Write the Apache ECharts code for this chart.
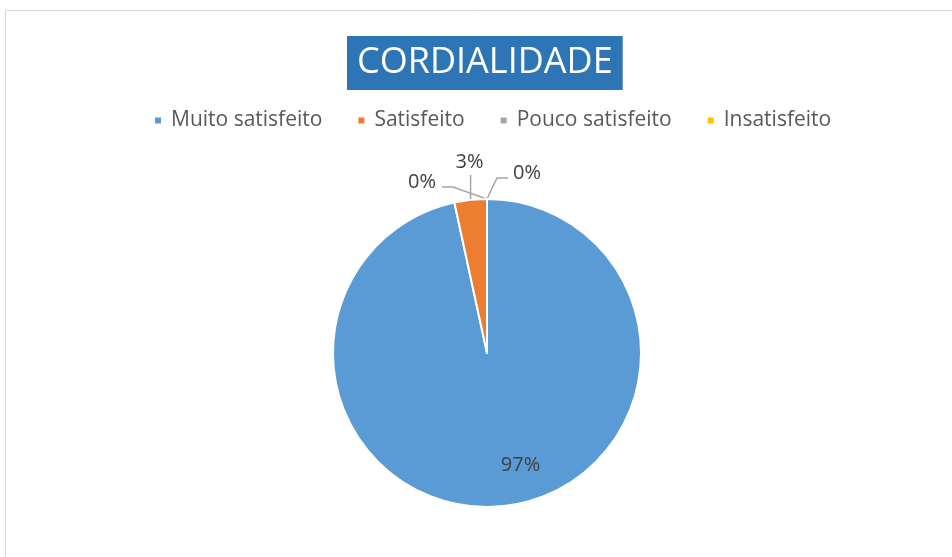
<!DOCTYPE html>
<html>
<head>
<meta charset="utf-8">
<style>
  html, body { margin: 0; padding: 0; background: #fff; }
  #chart { width: 952px; height: 557px; }
</style>
<script src="https://cdn.jsdelivr.net/npm/echarts@6/dist/echarts.min.js"></script>
</head>
<body>
<div id="chart"></div>
<script>
const categories = ['Muito satisfeito', 'Satisfeito', 'Pouco satisfeito', 'Insatisfeito']
const values = [96.6, 3.4, 0, 0]
const colors = ['#5B9BD5', '#ED7D31', '#A5A5A5', '#FFC000']

const chart = echarts.init(document.getElementById('chart'))

const pieData = categories.map((name, i) => {
  const item = { name: name, value: values[i], itemStyle: { color: colors[i] } }
  if (i === 0) {
    // the big slice keeps its label inside
    item.label = { position: 'inside', offset: [25, 33] }
    item.labelLine = { show: false }
  }
  return item
})

// leader line shapes for the small slices, relative to the point on the slice edge
function smallLabel(params) {
  if (params.dataIndex === 0 || !params.labelLinePoints) return {}
  const p = params.labelLinePoints[0]
  const x = p[0]
  const y = p[1]
  if (params.dataIndex === 1) {
    return {
      x: x - 1, y: y - 38, align: 'center', verticalAlign: 'middle',
      labelLinePoints: [[x, y], [x, y - 12], [x, y - 25]]
    }
  }
  if (params.dataIndex === 2) {
    return {
      x: x - 51, y: y - 17, align: 'right', verticalAlign: 'middle',
      labelLinePoints: [[x, y], [x - 34, y - 12], [x - 45, y - 12]]
    }
  }
  return {
    x: x + 26, y: y - 26, align: 'left', verticalAlign: 'middle',
    labelLinePoints: [[x, y], [x + 10, y - 21], [x + 21, y - 21]]
  }
}

chart.setOption({
  animation: false,
  backgroundColor: '#fff',
  graphic: [{
    type: 'rect',
    shape: { x: 5.5, y: 10.5, width: 1000, height: 600 },
    style: { fill: 'none', stroke: '#d9d9d9', lineWidth: 1 },
    silent: true
  }],
  title: {
    text: 'CORDIALIDADE',
    left: 347,
    top: 36,
    backgroundColor: '#2E75B6',
    padding: [5, 10, 5, 10],
    textStyle: {
      color: '#fff',
      fontFamily: 'Open Sans',
      fontWeight: 'normal',
      fontSize: 36,
      lineHeight: 44
    }
  },
  legend: {
    top: 105,
    left: 148,
    icon: 'rect',
    itemWidth: 8,
    itemHeight: 8,
    itemGap: 34,
    textStyle: {
      color: '#595959',
      fontFamily: 'Open Sans',
      fontSize: 21,
      padding: [0, 0, 0, 4]
    },
    data: categories
  },
  series: [{
    type: 'pie',
    center: [487, 353],
    radius: 154,
    startAngle: 90,
    clockwise: true,
    avoidLabelOverlap: false,
    itemStyle: { borderColor: '#fff', borderWidth: 2 },
    label: {
      show: true,
      position: 'outside',
      color: '#404040',
      fontFamily: 'Open Sans',
      fontSize: 20,
      formatter: p => Math.round(p.percent) + '%'
    },
    labelLine: {
      show: true,
      length: 12,
      length2: 12,
      lineStyle: { color: '#A6A6A6', width: 1.5 }
    },
    labelLayout: smallLabel,
    data: pieData
  }]
})
</script>
</body>
</html>
